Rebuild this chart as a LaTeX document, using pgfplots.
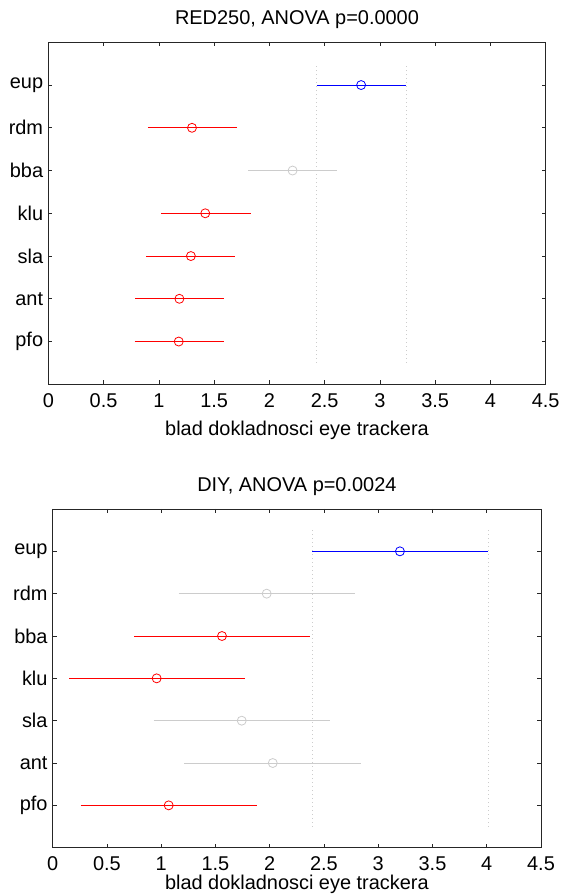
\documentclass[border=0pt]{standalone}
\usepackage{pgfplots}
\pgfplotsset{compat=1.18}
\usepackage{fontspec}
\setmainfont{Liberation Sans}
\definecolor{mblue}{rgb}{0,0,1}
\definecolor{mred}{rgb}{1,0,0}
\definecolor{mgray}{rgb}{0.8,0.8,0.8}
\definecolor{dotg}{rgb}{0.8,0.8,0.8}
\begin{document}
\fontsize{20}{24}\selectfont
\begin{tikzpicture}
\pgfplotsset{
  mc/.style={
    scale only axis, anchor=south west,
    xmin=0, xmax=4.5, ymin=0, ymax=8,
    xtick={0,0.5,1,1.5,2,2.5,3,3.5,4,4.5},
    ytick={1,2,3,4,5,6,7},
    yticklabels={pfo,ant,sla,klu,bba,rdm,eup},
    tick align=inside, major tick length=4bp,
    tick style={black!85, line width=0.6bp},
    axis line style={black!85, line width=0.9bp},
    /pgf/number format/assume math mode=true,
    xticklabel style={anchor=base, yshift=-23bp, inner sep=0pt},
    yticklabel style={anchor=east, inner sep=0pt, xshift=-5bp},
    xlabel={blad dokladnosci eye trackera},
    xlabel style={at={(axis description cs:0.5,0)}, anchor=base, yshift=-51bp, inner sep=0pt},
    title style={at={(axis description cs:0.5,1)}, anchor=base, yshift=12bp, inner sep=0pt},
  },
  iv/.style={line width=1bp, draw=#1, color=#1},
  ctr/.style={only marks, mark=o, mark size=4.5bp, color=#1, mark options={draw=#1, fill=white, line width=0.8bp}},
  dl/.style={draw=dotg, line width=0.8bp, dash pattern=on 1bp off 3bp},
}
% ---------- top panel ----------
\begin{axis}[mc, at={(48.3bp,510.7bp)}, width=497.4bp, height=342bp,
  title={RED250, ANOVA p=0.0000}]
\addplot[dl] coordinates {(2.425,0.5) (2.425,7.5)};
\addplot[dl] coordinates {(3.237,0.5) (3.237,7.5)};
% eup
\addplot[iv=mblue] coordinates {(2.43,7) (3.237,7)};
\addplot[ctr=mblue] coordinates {(2.83,7)};
% rdm
\addplot[iv=mred] coordinates {(0.90,6) (1.708,6)};
\addplot[ctr=mred] coordinates {(1.30,6)};
% bba
\addplot[iv=mgray] coordinates {(1.81,5) (2.613,5)};
\addplot[ctr=mgray] coordinates {(2.21,5)};
% klu
\addplot[iv=mred] coordinates {(1.02,4) (1.83,4)};
\addplot[ctr=mred] coordinates {(1.42,4)};
% sla
\addplot[iv=mred] coordinates {(0.884,3) (1.69,3)};
\addplot[ctr=mred] coordinates {(1.29,3)};
% ant
\addplot[iv=mred] coordinates {(0.785,2) (1.587,2)};
\addplot[ctr=mred] coordinates {(1.186,2)};
% pfo
\addplot[iv=mred] coordinates {(0.78,1) (1.587,1)};
\addplot[ctr=mred] coordinates {(1.18,1)};
\end{axis}
% ---------- bottom panel ----------
\begin{axis}[mc, at={(52.7bp,47.3bp)}, width=488.3bp, height=338.7bp,
  title={DIY, ANOVA p=0.0024},
  xlabel style={yshift=9bp}]
\addplot[dl] coordinates {(2.39,0.5) (2.39,7.5)};
\addplot[dl] coordinates {(4.015,0.5) (4.015,7.5)};
% eup
\addplot[iv=mblue] coordinates {(2.39,7) (4.015,7)};
\addplot[ctr=mblue] coordinates {(3.20,7)};
% rdm
\addplot[iv=mgray] coordinates {(1.161,6) (2.783,6)};
\addplot[ctr=mgray] coordinates {(1.972,6)};
% bba
\addplot[iv=mred] coordinates {(0.752,5) (2.369,5)};
\addplot[ctr=mred] coordinates {(1.56,5)};
% klu
\addplot[iv=mred] coordinates {(0.153,4) (1.772,4)};
\addplot[ctr=mred] coordinates {(0.958,4)};
% sla
\addplot[iv=mgray] coordinates {(0.931,3) (2.553,3)};
\addplot[ctr=mgray] coordinates {(1.742,3)};
% ant
\addplot[iv=mgray] coordinates {(1.213,2) (2.839,2)};
\addplot[ctr=mgray] coordinates {(2.028,2)};
% pfo
\addplot[iv=mred] coordinates {(0.258,1) (1.88,1)};
\addplot[ctr=mred] coordinates {(1.069,1)};
\end{axis}
\pgfresetboundingbox
\path[use as bounding box] (0,0) rectangle (562bp,895bp);
\end{tikzpicture}
\end{document}
